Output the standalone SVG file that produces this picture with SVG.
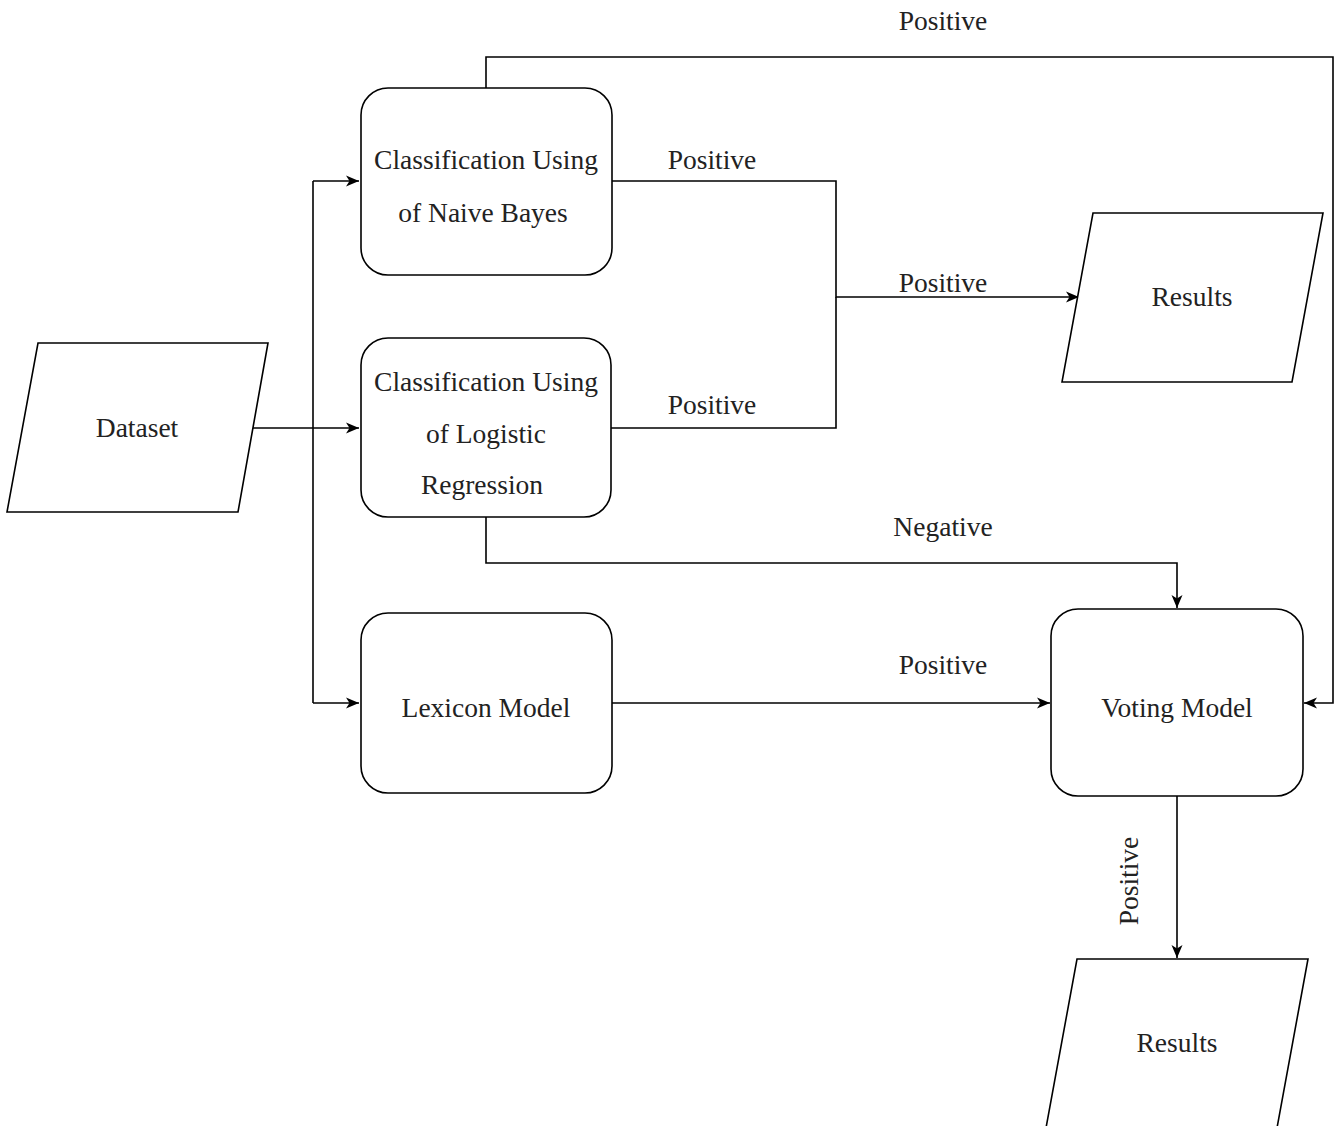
<svg xmlns="http://www.w3.org/2000/svg" width="1336" height="1126" viewBox="0 0 1336 1126">
<style>
.shape{fill:#fff;stroke:#000;stroke-width:1.6}
.edge{fill:none;stroke:#000;stroke-width:1.6}
.t{font-family:'Liberation Serif','Times New Roman',Tinos,'DejaVu Serif',serif;font-size:27.5px;fill:#222;text-anchor:middle}
</style>
<defs>
<marker id="arr" viewBox="0 0 14 14" refX="13" refY="7" markerWidth="14" markerHeight="14" markerUnits="userSpaceOnUse" orient="auto">
<path d="M0,1.5 L13,7 L0,12.5 L3.5,7 Z" fill="#000"/>
</marker>
</defs>
<rect width="1336" height="1126" fill="#fff"/>
<g id="connectors">
<path class="edge" d="M253,428 H313" stroke-width="2.4"/>
<path class="edge" d="M313,428 H359" marker-end="url(#arr)"/>
<path class="edge" d="M313,181 V703"/>
<path class="edge" d="M313,181 H359" marker-end="url(#arr)"/>
<path class="edge" d="M313,703 H359" marker-end="url(#arr)"/>
<path class="edge" d="M486,88 V57 H1333 V703 H1304" marker-end="url(#arr)"/>
<path class="edge" d="M612,181 H836 V297 H1079" marker-end="url(#arr)"/>
<path class="edge" d="M611,428 H836 V297"/>
<path class="edge" d="M486,517 V563 H1177 V608" marker-end="url(#arr)"/>
<path class="edge" d="M612,703 H1050" marker-end="url(#arr)"/>
<path class="edge" d="M1177,796 V958" marker-end="url(#arr)"/>
<text class="t" x="943" y="30">Positive</text>
<text class="t" x="712" y="169">Positive</text>
<text class="t" x="943" y="292">Positive</text>
<text class="t" x="712" y="414">Positive</text>
<text class="t" x="943" y="536">Negative</text>
<text class="t" x="943" y="674">Positive</text>
<text class="t" transform="translate(1138,881) rotate(-90)">Positive</text>
</g>
<g id="dataset">
<polygon class="shape" points="38,343 268,343 238,512 7,512"/>
<text class="t" x="137" y="437">Dataset</text>
</g>
<g id="naive-bayes">
<rect class="shape" x="361" y="88" width="251" height="187" rx="27"/>
<text class="t" x="486" y="169">Classification Using</text>
<text class="t" x="483" y="222">of Naive Bayes</text>
</g>
<g id="logistic-regression">
<rect class="shape" x="361" y="338" width="250" height="179" rx="27"/>
<text class="t" x="486" y="391">Classification Using</text>
<text class="t" x="486" y="443">of Logistic</text>
<text class="t" x="482" y="494">Regression</text>
</g>
<g id="lexicon">
<rect class="shape" x="361" y="613" width="251" height="180" rx="27"/>
<text class="t" x="486" y="717">Lexicon Model</text>
</g>
<g id="results-top">
<polygon class="shape" points="1093,213 1323,213 1292,382 1062,382"/>
<text class="t" x="1192" y="306">Results</text>
</g>
<g id="voting">
<rect class="shape" x="1051" y="609" width="252" height="187" rx="27"/>
<text class="t" x="1177" y="717">Voting Model</text>
</g>
<g id="results-bottom">
<polygon class="shape" points="1077,959 1308,959 1277,1128 1046,1128"/>
<text class="t" x="1177" y="1052">Results</text>
</g>
</svg>
